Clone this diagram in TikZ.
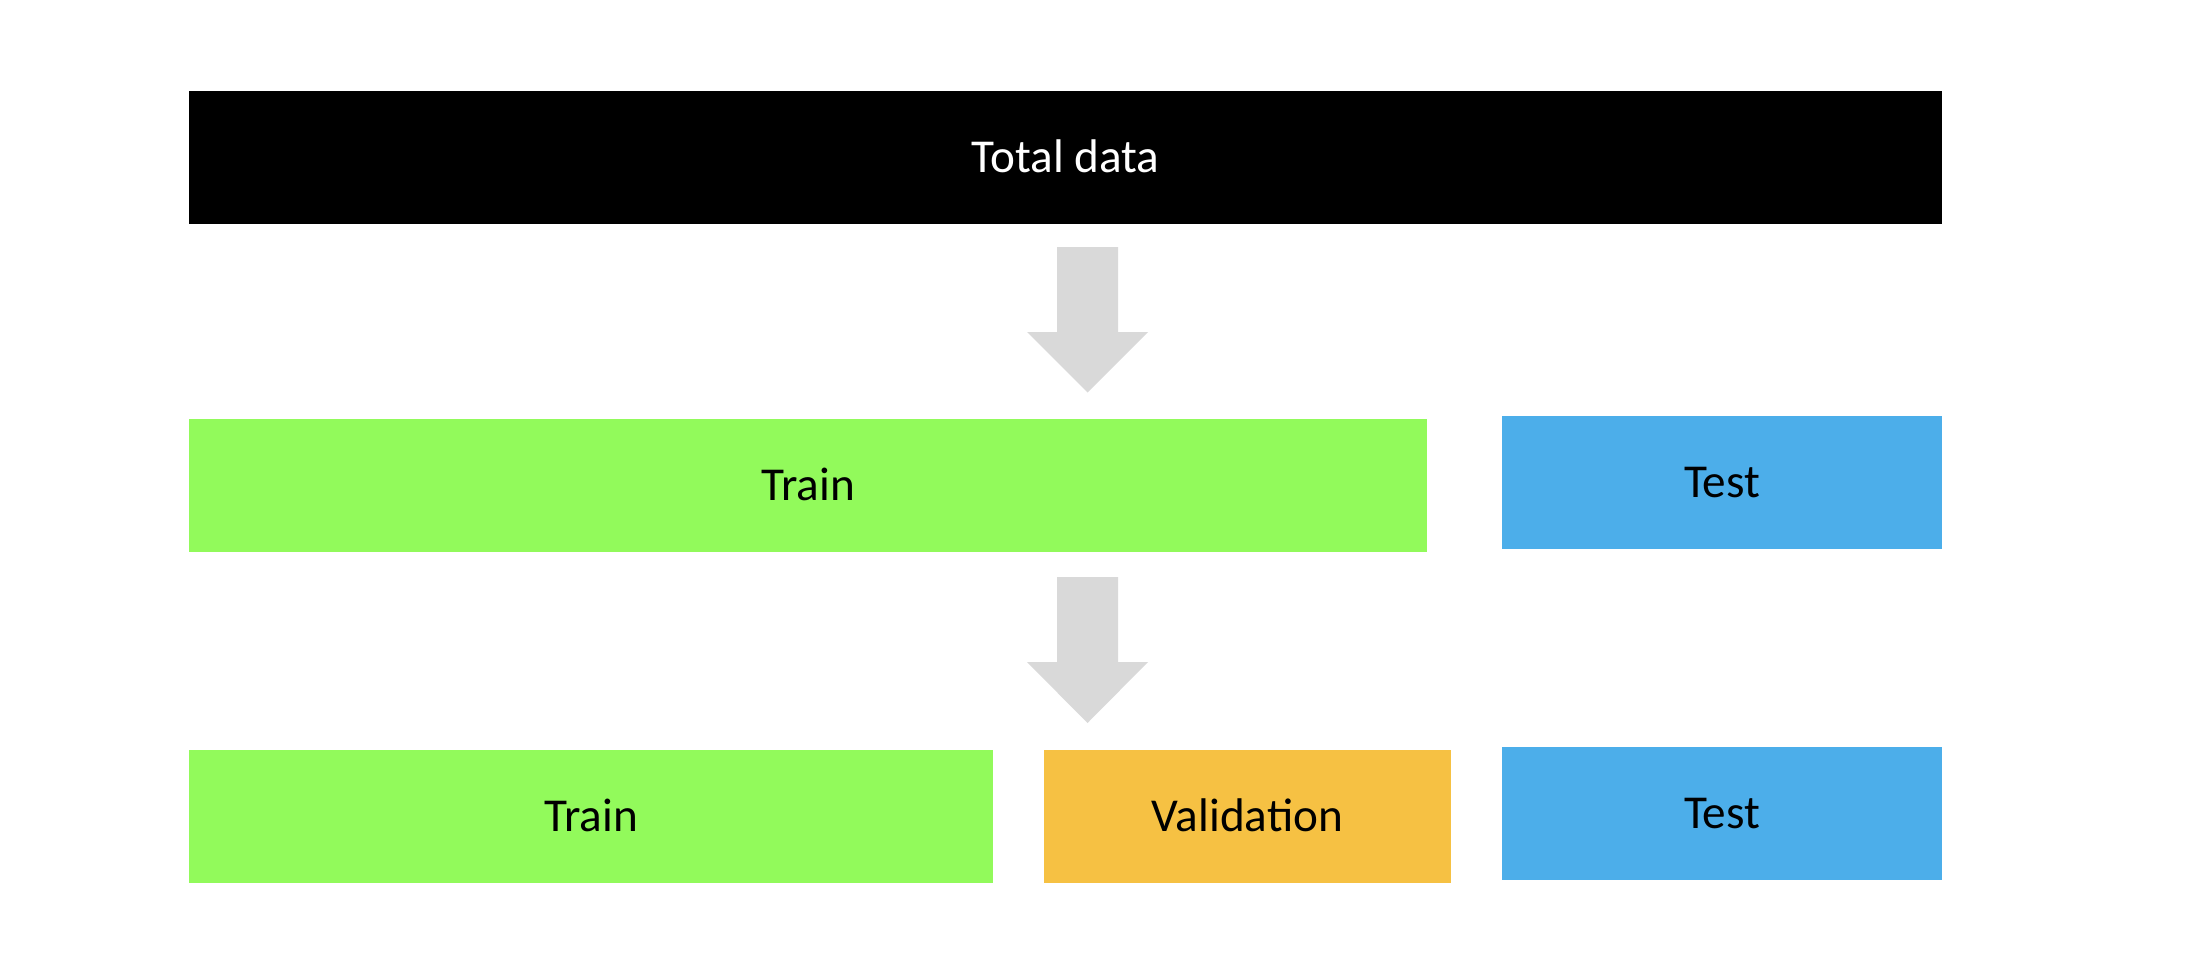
\documentclass[tikz,border=0pt]{standalone}
\usepackage{fontspec}
\setmainfont{Carlito}
\definecolor{trainc}{RGB}{146,250,91}
\definecolor{testc}{RGB}{76,174,234}
\definecolor{valc}{RGB}{246,193,67}
\definecolor{arrc}{RGB}{217,217,217}
\begin{document}
\begin{tikzpicture}[x=0.5pt,y=-0.5pt,
  box/.style={rectangle, inner sep=0pt, outer sep=0pt, draw=none, minimum height=66.5pt,
    text height=15.2pt, text depth=0pt,
    font=\fontsize{23.6}{28}\selectfont},
  bigarrow/.style={fill=arrc, draw=none}]
\useasboundingbox[fill=white] (0,0) rectangle (2186,958);
\node[box, fill=black, text=white, minimum width=876.5pt] (total) at (1065.5,157.5) {Total data};
\node[box, fill=trainc, minimum width=619pt] (train1) at (808,485.5) {Train};
\node[box, fill=testc, minimum width=220pt] (test1) at (1722,482.5) {Test};
\node[box, fill=trainc, minimum width=402pt] (train2) at (591,816.5) {Train};
\node[box, fill=valc, minimum width=203.5pt] (val) at (1247.5,816.5) {Validation};
\node[box, fill=testc, minimum width=220pt] (test2) at (1722,813.5) {Test};
% arrows
\fill[bigarrow] (1057,247) -- (1118,247) -- (1118,332) -- (1148,332) -- (1087.5,392.5) -- (1027,332) -- (1057,332) -- cycle;
\fill[bigarrow] (1057,577) -- (1118,577) -- (1118,662) -- (1148,662) -- (1087.5,723) -- (1027,662) -- (1057,662) -- cycle;
\end{tikzpicture}
\end{document}
